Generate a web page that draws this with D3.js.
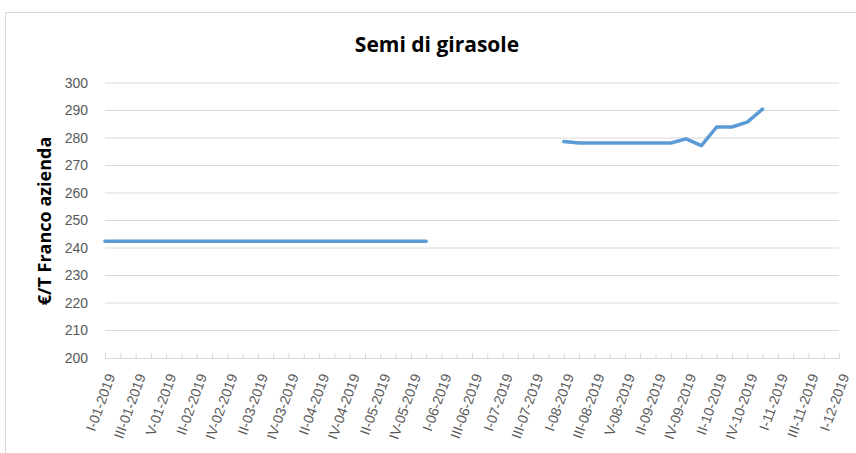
<!DOCTYPE html>
<html>
<head>
<meta charset="utf-8">
<script src="https://cdn.jsdelivr.net/npm/d3@7"></script>
<style>
  body { margin: 0; background: #fff; }
  svg { display: block; }
</style>
</head>
<body>
<svg id="chart"></svg>
<script>
// weekly categories (week of month in roman numerals - month - year)
const weeks = [
  "I-01-2019", "II-01-2019", "III-01-2019", "IV-01-2019", "V-01-2019",
  "I-02-2019", "II-02-2019", "III-02-2019", "IV-02-2019",
  "I-03-2019", "II-03-2019", "III-03-2019", "IV-03-2019",
  "I-04-2019", "II-04-2019", "III-04-2019", "IV-04-2019",
  "I-05-2019", "II-05-2019", "III-05-2019", "IV-05-2019", "V-05-2019",
  "I-06-2019", "II-06-2019", "III-06-2019", "IV-06-2019",
  "I-07-2019", "II-07-2019", "III-07-2019", "IV-07-2019",
  "I-08-2019", "II-08-2019", "III-08-2019", "IV-08-2019", "V-08-2019",
  "I-09-2019", "II-09-2019", "III-09-2019", "IV-09-2019",
  "I-10-2019", "II-10-2019", "III-10-2019", "IV-10-2019", "V-10-2019",
  "I-11-2019", "II-11-2019", "III-11-2019", "IV-11-2019",
  "I-12-2019"
];

// first season: January - May
const season1 = [
  242.5, 242.5, 242.5, 242.5, 242.5,
  242.5, 242.5, 242.5, 242.5,
  242.5, 242.5, 242.5, 242.5,
  242.5, 242.5, 242.5, 242.5,
  242.5, 242.5, 242.5, 242.5, 242.5
];
const season1Start = "I-01-2019";

// new harvest: August - October
const season2 = [
  278.7, 278.2, 278.2, 278.2, 278.2,
  278.2, 278.2, 278.2, 279.7, 277.2,
  284.0, 284.0, 285.8, 290.5
];
const season2Start = "I-08-2019";

const yTicks = [200, 210, 220, 230, 240, 250, 260, 270, 280, 290, 300];

const width = 856;
const height = 453;
const margin = {top: 83, right: 17, bottom: 95, left: 105};

const svg = d3.select("#chart")
  .attr("width", width)
  .attr("height", height)
  .attr("font-family", "'Open Sans', 'Noto Sans', sans-serif");

// chart frame
svg.append("rect")
  .attr("x", 5.5)
  .attr("y", 12.5)
  .attr("width", 870)
  .attr("height", 460)
  .attr("fill", "#fff")
  .attr("stroke", "#d9d9d9");

const x = d3.scalePoint(weeks, [margin.left, width - margin.right]);
const y = d3.scaleLinear([200, 300], [height - margin.bottom, margin.top]);

// gridlines
svg.append("g")
  .selectAll("line")
  .data(yTicks.slice(1))
  .join("line")
  .attr("x1", margin.left)
  .attr("x2", width - margin.right)
  .attr("y1", d => y(d))
  .attr("y2", d => y(d))
  .attr("stroke", "#d9d9d9")
  .attr("stroke-width", 1);

// y axis labels
const yAxis = svg.append("g")
  .attr("transform", `translate(${margin.left},0)`)
  .call(d3.axisLeft(y).tickValues(yTicks).tickSize(0).tickPadding(17));
yAxis.select(".domain").remove();
yAxis.selectAll("text")
  .attr("fill", "#595959")
  .attr("font-size", 14);

// x axis
const xAxis = svg.append("g")
  .attr("transform", `translate(0,${height - margin.bottom})`)
  .call(d3.axisBottom(x).tickSize(-5).tickFormat((d, i) => i % 2 === 0 ? d : ""));
xAxis.select(".domain").attr("stroke", "#d9d9d9");
xAxis.selectAll(".tick line").attr("stroke", "#d9d9d9");
xAxis.selectAll("text")
  .attr("fill", "#595959")
  .attr("font-size", 14)
  .attr("text-anchor", "end")
  .attr("dy", 0)
  .attr("transform", "translate(7,17) rotate(-70)");

// series
const line = d3.line()
  .x(d => x(d.week))
  .y(d => y(d.value));

const startIdx1 = weeks.indexOf(season1Start);
const startIdx2 = weeks.indexOf(season2Start);
const data1 = season1.map((v, i) => ({week: weeks[startIdx1 + i], value: v}));
const data2 = season2.map((v, i) => ({week: weeks[startIdx2 + i], value: v}));

[data1, data2].forEach(data => {
  svg.append("path")
    .datum(data)
    .attr("fill", "none")
    .attr("stroke", "#5b9bd5")
    .attr("stroke-width", 3.5)
    .attr("stroke-linejoin", "round")
    .attr("stroke-linecap", "round")
    .attr("d", line);
});

// title
svg.append("text")
  .attr("x", 437)
  .attr("y", 52)
  .attr("text-anchor", "middle")
  .attr("font-size", 21)
  .attr("font-weight", "bold")
  .attr("fill", "#000")
  .text("Semi di girasole");

// y axis title
svg.append("text")
  .attr("transform", `translate(51,221) rotate(-90)`)
  .attr("text-anchor", "middle")
  .attr("font-size", 18)
  .attr("font-weight", "bold")
  .attr("fill", "#000")
  .text("€/T Franco azienda");
</script>
</body>
</html>
